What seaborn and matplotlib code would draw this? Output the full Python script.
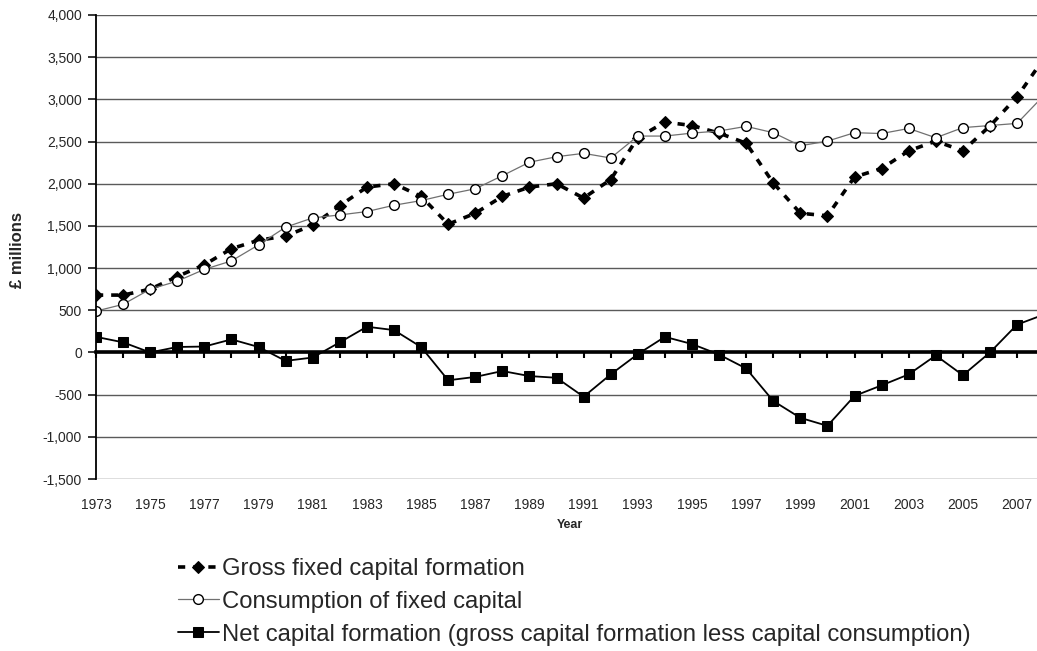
import numpy as np
import pandas as pd
import matplotlib
matplotlib.use("Agg")
import matplotlib.pyplot as plt
from matplotlib.ticker import FuncFormatter, MultipleLocator
import seaborn as sns

# === data ===
years = list(range(1973, 2009))
gross = [680, 680, 750, 900, 1040, 1230, 1330, 1380, 1510, 1740, 1960, 2000,
         1850, 1520, 1650, 1850, 1960, 2000, 1830, 2050, 2545, 2730, 2690, 2600,
         2480, 2010, 1650, 1620, 2080, 2180, 2390, 2505, 2390, 2685, 3030, 3490]
consumption = [490, 570, 750, 845, 985, 1085, 1275, 1485, 1595, 1630, 1670, 1745,
               1800, 1875, 1940, 2095, 2255, 2320, 2360, 2305, 2565, 2565, 2600, 2625,
               2680, 2605, 2450, 2505, 2605, 2595, 2655, 2545, 2665, 2690, 2715, 3050]
net = [185, 120, 0, 65, 70, 155, 65, -100, -60, 120, 305, 265,
       65, -330, -290, -220, -280, -300, -525, -260, -20, 185, 100, -25,
       -190, -575, -775, -870, -515, -390, -260, -35, -270, 0, 330, 450]

labels = ["Gross fixed capital formation",
          "Consumption of fixed capital",
          "Net capital formation (gross capital formation less capital consumption)"]

df = pd.DataFrame({"year": years, "gross": gross, "cons": consumption, "net": net})

sns.set_style("white")
plt.rcParams["font.family"] = ["Liberation Sans", "DejaVu Sans"]

fig = plt.figure(figsize=(10.37, 6.51), dpi=100)
ax = fig.add_axes([96 / 1037, 1 - 479 / 651, 1 - 96 / 1037, (479 - 15) / 651])

# horizontal gridlines
for v in range(-1500, 4001, 500):
    ax.axhline(v, color="#5a5a5a", lw=1.0, zorder=0)

sns.lineplot(data=df, x="year", y="gross", ax=ax, color="black", lw=2.6,
             linestyle=(0, (2.0, 2.2)), marker="D", markersize=6.5,
             markerfacecolor="black", markeredgecolor="black", label=labels[0])
sns.lineplot(data=df, x="year", y="cons", ax=ax, color="#707070", lw=0.9,
             marker="o", markersize=7, markerfacecolor="white",
             markeredgecolor="black", markeredgewidth=1.0, label=labels[1])
sns.lineplot(data=df, x="year", y="net", ax=ax, color="black", lw=1.3,
             marker="s", markersize=7, markerfacecolor="black",
             markeredgecolor="black", label=labels[2])

ax.set_xlim(1973, 1973 + 941 / 27.09)
ax.set_ylim(-1500, 4000)

# axis at zero with yearly tick marks
for s in ["top", "right"]:
    ax.spines[s].set_visible(False)
ax.spines["bottom"].set_position(("data", 0))
ax.spines["bottom"].set_linewidth(2.6)
ax.spines["bottom"].set_color("black")
ax.spines["left"].set_linewidth(1.3)
ax.spines["left"].set_color("black")
ax.xaxis.set_major_locator(MultipleLocator(1))
ax.tick_params(axis="x", direction="out", length=4, width=1.5, color="black",
               labelbottom=False, bottom=True)
ax.yaxis.set_major_locator(MultipleLocator(500))
ax.yaxis.set_major_formatter(FuncFormatter(lambda v, p: f"{v:,.0f}"))
ax.tick_params(axis="y", direction="out", length=6, width=1.1, color="black",
               labelsize=10, pad=4, left=True)
ax.set_xlabel("")
ax.set_ylabel("")

# year labels along the bottom
sec = ax.secondary_xaxis("bottom")
sec.set_xticks(list(range(1973, 2008, 2)))
sec.set_xticklabels([str(y) for y in range(1973, 2008, 2)])
sec.tick_params(length=0, labelsize=10, pad=14)
sec.spines["bottom"].set_visible(False)

fig.text(570 / 1037, 1 - 525 / 651, "Year", ha="center", va="center",
         fontsize=9, fontweight="bold")
fig.text(18 / 1037, 1 - 250 / 651, "£ millions", ha="center", va="center",
         rotation=90, fontsize=12, fontweight="bold")

handles, labs = ax.get_legend_handles_labels()
ax.get_legend().remove()
fig.legend(handles, labs, loc="upper left", bbox_to_anchor=(178 / 1037, 1 - 558 / 651),
           frameon=False, fontsize=17.2, handlelength=1.7, handletextpad=0.15,
           labelspacing=0.45, borderaxespad=0, borderpad=0)

fig.savefig("out.png", dpi=100)
